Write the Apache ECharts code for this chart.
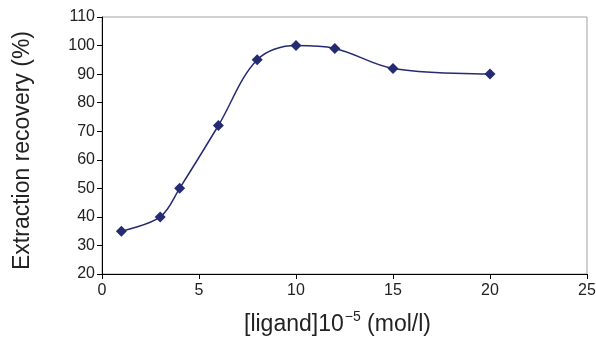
<!DOCTYPE html>
<html><head><meta charset="utf-8">
<script src="https://cdn.jsdelivr.net/npm/echarts@6/dist/echarts.min.js"></script>
<style>html,body{margin:0;padding:0;background:#fff}#c{width:596px;height:337px}</style>
</head><body><div id="c"></div>
<script>
const ligand = [1, 3, 4, 6, 8, 10, 12, 15, 20];
const recovery = [35, 40, 50, 72, 95, 100, 99, 92, 90];
const xTicks = [0, 5, 10, 15, 20, 25];
const yTicks = [20, 30, 40, 50, 60, 70, 80, 90, 100, 110];
const color = '#252b72';
const FF = '"Liberation Sans", Arial, sans-serif';
const chart = echarts.init(document.getElementById('c'));
chart.setOption({
  animation: false,
  grid: {left: 102, right: 9, top: 17, bottom: 63, show: true, borderColor: '#a0a0a0', borderWidth: 1, outerBoundsMode: 'none', containLabel: false},
  xAxis: {
    type: 'value', min: xTicks[0], max: xTicks[xTicks.length-1], interval: 5,
    axisLine: {show: true, onZero: false, lineStyle: {color: '#000', width: 1}},
    axisTick: {show: true, inside: false, length: 5, lineStyle: {color: '#000'}},
    axisLabel: {color: '#222', fontFamily: FF, fontSize: 16, margin: 9},
    splitLine: {show: false},
    name: '{a|[ligand]10}{s|−5}{a| (mol/l)}', nameLocation: 'middle', nameGap: 36,
    nameTextStyle: {padding: [0, 14, 0, 0], rich: {
      a: {fontFamily: FF, fontSize: 23, color: '#222', verticalAlign: 'bottom', lineHeight: 26},
      s: {fontFamily: FF, fontSize: 14, color: '#222', verticalAlign: 'top', lineHeight: 26, padding: [0,0,14,1]}
    }}
  },
  yAxis: {
    type: 'value', min: yTicks[0], max: yTicks[yTicks.length-1], interval: 10,
    axisLine: {show: true, lineStyle: {color: '#000', width: 1}},
    axisTick: {show: true, inside: false, length: 5, lineStyle: {color: '#000'}},
    axisLabel: {color: '#222', fontFamily: FF, fontSize: 16, margin: 7},
    splitLine: {show: false},
    name: 'Extraction recovery (%)', nameLocation: 'middle', nameGap: 68,
    nameTextStyle: {fontFamily: FF, fontSize: 23, color: '#222', padding: [0, 10, 0, 0]}
  },
  series: [{
    type: 'line', data: ligand.map((x, i) => [x, recovery[i]]),
    smooth: 0.35, symbol: 'diamond', symbolSize: 11,
    lineStyle: {color: color, width: 1.5},
    itemStyle: {color: color}
  }]
});
</script></body></html>
